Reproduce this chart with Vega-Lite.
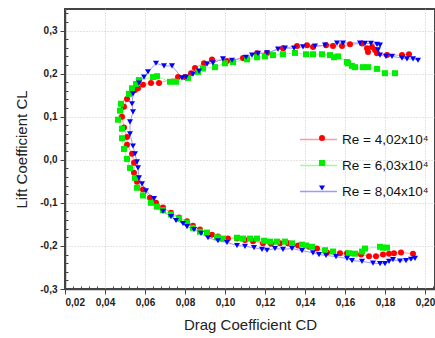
{
  "$schema": "https://vega.github.io/schema/vega-lite/v6.json",
  "autosize": "none",
  "padding": {"left": 65, "top": 9, "right": 0, "bottom": 49},
  "width": 370,
  "height": 280,
  "background": "white",
  "config": {
    "view": {"stroke": "#444444", "strokeWidth": 2},
    "axis": {
      "labelFont": "Liberation Sans",
      "labelFontWeight": "bold",
      "labelFontSize": 10,
      "labelColor": "#222222",
      "titleFont": "Liberation Sans",
      "titleFontWeight": "normal",
      "titleFontSize": 15,
      "titleColor": "#222222",
      "domainColor": "#444444",
      "domainWidth": 1.5,
      "tickColor": "#444444",
      "tickWidth": 1,
      "gridColor": "#c8c8c8",
      "gridDash": [1, 2],
      "gridWidth": 1
    }
  },
  "datasets": {
    "pts": [
      {"s":"Re = 4,02x10⁴","i":1,"x":0.194,"y":-0.218},{"s":"Re = 4,02x10⁴","i":2,"x":0.188,"y":-0.215},{"s":"Re = 4,02x10⁴","i":3,"x":0.1845,"y":-0.217},{"s":"Re = 4,02x10⁴","i":4,"x":0.182,"y":-0.218},{"s":"Re = 4,02x10⁴","i":5,"x":0.179,"y":-0.22},{"s":"Re = 4,02x10⁴","i":6,"x":0.1755,"y":-0.224},{"s":"Re = 4,02x10⁴","i":7,"x":0.172,"y":-0.224},{"s":"Re = 4,02x10⁴","i":8,"x":0.168,"y":-0.22},{"s":"Re = 4,02x10⁴","i":9,"x":0.161,"y":-0.217},{"s":"Re = 4,02x10⁴","i":10,"x":0.1575,"y":-0.217},
      {"s":"Re = 4,02x10⁴","i":11,"x":0.151,"y":-0.215},{"s":"Re = 4,02x10⁴","i":12,"x":0.146,"y":-0.206},{"s":"Re = 4,02x10⁴","i":13,"x":0.142,"y":-0.202},{"s":"Re = 4,02x10⁴","i":14,"x":0.1365,"y":-0.199},{"s":"Re = 4,02x10⁴","i":15,"x":0.1315,"y":-0.194},{"s":"Re = 4,02x10⁴","i":16,"x":0.1275,"y":-0.194},{"s":"Re = 4,02x10⁴","i":17,"x":0.123,"y":-0.195},{"s":"Re = 4,02x10⁴","i":18,"x":0.119,"y":-0.194},{"s":"Re = 4,02x10⁴","i":19,"x":0.114,"y":-0.189},{"s":"Re = 4,02x10⁴","i":20,"x":0.11,"y":-0.186},
      {"s":"Re = 4,02x10⁴","i":21,"x":0.106,"y":-0.183},{"s":"Re = 4,02x10⁴","i":22,"x":0.1015,"y":-0.183},{"s":"Re = 4,02x10⁴","i":23,"x":0.0965,"y":-0.178},{"s":"Re = 4,02x10⁴","i":24,"x":0.0935,"y":-0.174},{"s":"Re = 4,02x10⁴","i":25,"x":0.0875,"y":-0.162},{"s":"Re = 4,02x10⁴","i":26,"x":0.084,"y":-0.153},{"s":"Re = 4,02x10⁴","i":27,"x":0.081,"y":-0.143},{"s":"Re = 4,02x10⁴","i":28,"x":0.077,"y":-0.134},{"s":"Re = 4,02x10⁴","i":29,"x":0.073,"y":-0.123},{"s":"Re = 4,02x10⁴","i":30,"x":0.069,"y":-0.111},
      {"s":"Re = 4,02x10⁴","i":31,"x":0.0655,"y":-0.1},{"s":"Re = 4,02x10⁴","i":32,"x":0.0625,"y":-0.088},{"s":"Re = 4,02x10⁴","i":33,"x":0.059,"y":-0.069},{"s":"Re = 4,02x10⁴","i":34,"x":0.056,"y":-0.051},{"s":"Re = 4,02x10⁴","i":35,"x":0.0545,"y":-0.03},{"s":"Re = 4,02x10⁴","i":36,"x":0.0545,"y":-0.007},{"s":"Re = 4,02x10⁴","i":37,"x":0.0535,"y":0.014},{"s":"Re = 4,02x10⁴","i":38,"x":0.051,"y":0.035},{"s":"Re = 4,02x10⁴","i":39,"x":0.051,"y":0.053},{"s":"Re = 4,02x10⁴","i":40,"x":0.0495,"y":0.075},
      {"s":"Re = 4,02x10⁴","i":41,"x":0.0485,"y":0.1},{"s":"Re = 4,02x10⁴","i":42,"x":0.0495,"y":0.123},{"s":"Re = 4,02x10⁴","i":43,"x":0.051,"y":0.141},{"s":"Re = 4,02x10⁴","i":44,"x":0.055,"y":0.162},{"s":"Re = 4,02x10⁴","i":45,"x":0.0565,"y":0.166},{"s":"Re = 4,02x10⁴","i":46,"x":0.059,"y":0.174},{"s":"Re = 4,02x10⁴","i":47,"x":0.063,"y":0.178},{"s":"Re = 4,02x10⁴","i":48,"x":0.067,"y":0.178},{"s":"Re = 4,02x10⁴","i":49,"x":0.0765,"y":0.192},{"s":"Re = 4,02x10⁴","i":50,"x":0.08,"y":0.192},
      {"s":"Re = 4,02x10⁴","i":51,"x":0.083,"y":0.201},{"s":"Re = 4,02x10⁴","i":52,"x":0.085,"y":0.213},{"s":"Re = 4,02x10⁴","i":53,"x":0.0895,"y":0.224},{"s":"Re = 4,02x10⁴","i":54,"x":0.0935,"y":0.233},{"s":"Re = 4,02x10⁴","i":55,"x":0.101,"y":0.229},{"s":"Re = 4,02x10⁴","i":56,"x":0.109,"y":0.236},{"s":"Re = 4,02x10⁴","i":57,"x":0.116,"y":0.247},{"s":"Re = 4,02x10⁴","i":58,"x":0.121,"y":0.248},{"s":"Re = 4,02x10⁴","i":59,"x":0.129,"y":0.259},{"s":"Re = 4,02x10⁴","i":60,"x":0.136,"y":0.264},
      {"s":"Re = 4,02x10⁴","i":61,"x":0.141,"y":0.266},{"s":"Re = 4,02x10⁴","i":62,"x":0.144,"y":0.262},{"s":"Re = 4,02x10⁴","i":63,"x":0.1505,"y":0.266},{"s":"Re = 4,02x10⁴","i":64,"x":0.154,"y":0.264},{"s":"Re = 4,02x10⁴","i":65,"x":0.1585,"y":0.264},{"s":"Re = 4,02x10⁴","i":66,"x":0.1625,"y":0.268},{"s":"Re = 4,02x10⁴","i":67,"x":0.1685,"y":0.27},{"s":"Re = 4,02x10⁴","i":68,"x":0.171,"y":0.259},{"s":"Re = 4,02x10⁴","i":69,"x":0.1715,"y":0.25},{"s":"Re = 4,02x10⁴","i":70,"x":0.1735,"y":0.262},
      {"s":"Re = 4,02x10⁴","i":71,"x":0.175,"y":0.255},{"s":"Re = 4,02x10⁴","i":72,"x":0.176,"y":0.247},{"s":"Re = 4,02x10⁴","i":73,"x":0.181,"y":0.243},{"s":"Re = 4,02x10⁴","i":74,"x":0.1885,"y":0.243},{"s":"Re = 4,02x10⁴","i":75,"x":0.192,"y":0.245},

      {"s":"Re = 6,03x10⁴","i":1,"x":0.181,"y":-0.204},{"s":"Re = 6,03x10⁴","i":2,"x":0.179,"y":-0.204},{"s":"Re = 6,03x10⁴","i":3,"x":0.1775,"y":-0.202},{"s":"Re = 6,03x10⁴","i":4,"x":0.17,"y":-0.206},{"s":"Re = 6,03x10⁴","i":5,"x":0.1685,"y":-0.213},{"s":"Re = 6,03x10⁴","i":6,"x":0.165,"y":-0.218},{"s":"Re = 6,03x10⁴","i":7,"x":0.162,"y":-0.217},{"s":"Re = 6,03x10⁴","i":8,"x":0.154,"y":-0.213},{"s":"Re = 6,03x10⁴","i":9,"x":0.15,"y":-0.21},{"s":"Re = 6,03x10⁴","i":10,"x":0.1435,"y":-0.202},
      {"s":"Re = 6,03x10⁴","i":11,"x":0.1405,"y":-0.199},{"s":"Re = 6,03x10⁴","i":12,"x":0.1385,"y":-0.197},{"s":"Re = 6,03x10⁴","i":13,"x":0.1335,"y":-0.194},{"s":"Re = 6,03x10⁴","i":14,"x":0.13,"y":-0.19},{"s":"Re = 6,03x10⁴","i":15,"x":0.126,"y":-0.19},{"s":"Re = 6,03x10⁴","i":16,"x":0.1225,"y":-0.19},{"s":"Re = 6,03x10⁴","i":17,"x":0.1195,"y":-0.188},{"s":"Re = 6,03x10⁴","i":18,"x":0.116,"y":-0.183},{"s":"Re = 6,03x10⁴","i":19,"x":0.1125,"y":-0.183},{"s":"Re = 6,03x10⁴","i":20,"x":0.109,"y":-0.183},
      {"s":"Re = 6,03x10⁴","i":21,"x":0.106,"y":-0.181},{"s":"Re = 6,03x10⁴","i":22,"x":0.099,"y":-0.183},{"s":"Re = 6,03x10⁴","i":23,"x":0.096,"y":-0.18},{"s":"Re = 6,03x10⁴","i":24,"x":0.091,"y":-0.169},{"s":"Re = 6,03x10⁴","i":25,"x":0.0875,"y":-0.167},{"s":"Re = 6,03x10⁴","i":26,"x":0.084,"y":-0.158},{"s":"Re = 6,03x10⁴","i":27,"x":0.081,"y":-0.146},{"s":"Re = 6,03x10⁴","i":28,"x":0.077,"y":-0.136},{"s":"Re = 6,03x10⁴","i":29,"x":0.073,"y":-0.127},{"s":"Re = 6,03x10⁴","i":30,"x":0.069,"y":-0.117},
      {"s":"Re = 6,03x10⁴","i":31,"x":0.066,"y":-0.109},{"s":"Re = 6,03x10⁴","i":32,"x":0.063,"y":-0.1},{"s":"Re = 6,03x10⁴","i":33,"x":0.059,"y":-0.083},{"s":"Re = 6,03x10⁴","i":34,"x":0.056,"y":-0.065},{"s":"Re = 6,03x10⁴","i":35,"x":0.055,"y":-0.042},{"s":"Re = 6,03x10⁴","i":36,"x":0.0525,"y":-0.019},{"s":"Re = 6,03x10⁴","i":37,"x":0.051,"y":0.002},{"s":"Re = 6,03x10⁴","i":38,"x":0.0495,"y":0.025},{"s":"Re = 6,03x10⁴","i":39,"x":0.0485,"y":0.05},{"s":"Re = 6,03x10⁴","i":40,"x":0.0485,"y":0.072},
      {"s":"Re = 6,03x10⁴","i":41,"x":0.0465,"y":0.093},{"s":"Re = 6,03x10⁴","i":42,"x":0.0475,"y":0.114},{"s":"Re = 6,03x10⁴","i":43,"x":0.048,"y":0.13},{"s":"Re = 6,03x10⁴","i":44,"x":0.052,"y":0.153},{"s":"Re = 6,03x10⁴","i":45,"x":0.0535,"y":0.166},{"s":"Re = 6,03x10⁴","i":46,"x":0.0555,"y":0.176},{"s":"Re = 6,03x10⁴","i":47,"x":0.057,"y":0.185},{"s":"Re = 6,03x10⁴","i":48,"x":0.064,"y":0.192},{"s":"Re = 6,03x10⁴","i":49,"x":0.066,"y":0.194},{"s":"Re = 6,03x10⁴","i":50,"x":0.0725,"y":0.181},
      {"s":"Re = 6,03x10⁴","i":51,"x":0.0755,"y":0.181},{"s":"Re = 6,03x10⁴","i":52,"x":0.0815,"y":0.19},{"s":"Re = 6,03x10⁴","i":53,"x":0.0865,"y":0.204},{"s":"Re = 6,03x10⁴","i":54,"x":0.089,"y":0.212},{"s":"Re = 6,03x10⁴","i":55,"x":0.095,"y":0.215},{"s":"Re = 6,03x10⁴","i":56,"x":0.1,"y":0.224},{"s":"Re = 6,03x10⁴","i":57,"x":0.104,"y":0.227},{"s":"Re = 6,03x10⁴","i":58,"x":0.111,"y":0.233},{"s":"Re = 6,03x10⁴","i":59,"x":0.116,"y":0.238},{"s":"Re = 6,03x10⁴","i":60,"x":0.12,"y":0.24},
      {"s":"Re = 6,03x10⁴","i":61,"x":0.124,"y":0.243},{"s":"Re = 6,03x10⁴","i":62,"x":0.129,"y":0.245},{"s":"Re = 6,03x10⁴","i":63,"x":0.135,"y":0.248},{"s":"Re = 6,03x10⁴","i":64,"x":0.1405,"y":0.245},{"s":"Re = 6,03x10⁴","i":65,"x":0.144,"y":0.245},{"s":"Re = 6,03x10⁴","i":66,"x":0.1485,"y":0.245},{"s":"Re = 6,03x10⁴","i":67,"x":0.1525,"y":0.243},{"s":"Re = 6,03x10⁴","i":68,"x":0.1545,"y":0.238},{"s":"Re = 6,03x10⁴","i":69,"x":0.1565,"y":0.24},{"s":"Re = 6,03x10⁴","i":70,"x":0.161,"y":0.227},
      {"s":"Re = 6,03x10⁴","i":71,"x":0.1615,"y":0.224},{"s":"Re = 6,03x10⁴","i":72,"x":0.1635,"y":0.218},{"s":"Re = 6,03x10⁴","i":73,"x":0.165,"y":0.215},{"s":"Re = 6,03x10⁴","i":74,"x":0.169,"y":0.215},{"s":"Re = 6,03x10⁴","i":75,"x":0.1715,"y":0.215},{"s":"Re = 6,03x10⁴","i":76,"x":0.176,"y":0.211},{"s":"Re = 6,03x10⁴","i":77,"x":0.18,"y":0.201},{"s":"Re = 6,03x10⁴","i":78,"x":0.185,"y":0.201},

      {"s":"Re = 8,04x10⁴","i":1,"x":0.195,"y":-0.229},{"s":"Re = 8,04x10⁴","i":2,"x":0.193,"y":-0.231},{"s":"Re = 8,04x10⁴","i":3,"x":0.1905,"y":-0.234},{"s":"Re = 8,04x10⁴","i":4,"x":0.1875,"y":-0.235},{"s":"Re = 8,04x10⁴","i":5,"x":0.184,"y":-0.232},{"s":"Re = 8,04x10⁴","i":6,"x":0.182,"y":-0.236},{"s":"Re = 8,04x10⁴","i":7,"x":0.18,"y":-0.241},{"s":"Re = 8,04x10⁴","i":8,"x":0.1775,"y":-0.241},{"s":"Re = 8,04x10⁴","i":9,"x":0.174,"y":-0.24},{"s":"Re = 8,04x10⁴","i":10,"x":0.1685,"y":-0.236},
      {"s":"Re = 8,04x10⁴","i":11,"x":0.1635,"y":-0.234},{"s":"Re = 8,04x10⁴","i":12,"x":0.161,"y":-0.229},{"s":"Re = 8,04x10⁴","i":13,"x":0.1555,"y":-0.225},{"s":"Re = 8,04x10⁴","i":14,"x":0.1505,"y":-0.222},{"s":"Re = 8,04x10⁴","i":15,"x":0.147,"y":-0.22},{"s":"Re = 8,04x10⁴","i":16,"x":0.144,"y":-0.216},{"s":"Re = 8,04x10⁴","i":17,"x":0.1385,"y":-0.211},{"s":"Re = 8,04x10⁴","i":18,"x":0.1335,"y":-0.206},{"s":"Re = 8,04x10⁴","i":19,"x":0.129,"y":-0.208},{"s":"Re = 8,04x10⁴","i":20,"x":0.125,"y":-0.206},
      {"s":"Re = 8,04x10⁴","i":21,"x":0.121,"y":-0.21},{"s":"Re = 8,04x10⁴","i":22,"x":0.1185,"y":-0.208},{"s":"Re = 8,04x10⁴","i":23,"x":0.1145,"y":-0.204},{"s":"Re = 8,04x10⁴","i":24,"x":0.11,"y":-0.201},{"s":"Re = 8,04x10⁴","i":25,"x":0.106,"y":-0.199},{"s":"Re = 8,04x10⁴","i":26,"x":0.101,"y":-0.192},{"s":"Re = 8,04x10⁴","i":27,"x":0.0965,"y":-0.188},{"s":"Re = 8,04x10⁴","i":28,"x":0.0915,"y":-0.181},{"s":"Re = 8,04x10⁴","i":29,"x":0.088,"y":-0.171},{"s":"Re = 8,04x10⁴","i":30,"x":0.0845,"y":-0.162},
      {"s":"Re = 8,04x10⁴","i":31,"x":0.081,"y":-0.155},{"s":"Re = 8,04x10⁴","i":32,"x":0.079,"y":-0.148},{"s":"Re = 8,04x10⁴","i":33,"x":0.0755,"y":-0.141},{"s":"Re = 8,04x10⁴","i":34,"x":0.073,"y":-0.132},{"s":"Re = 8,04x10⁴","i":35,"x":0.069,"y":-0.12},{"s":"Re = 8,04x10⁴","i":36,"x":0.0645,"y":-0.09},{"s":"Re = 8,04x10⁴","i":37,"x":0.0605,"y":-0.072},{"s":"Re = 8,04x10⁴","i":38,"x":0.0585,"y":-0.056},{"s":"Re = 8,04x10⁴","i":39,"x":0.057,"y":-0.042},{"s":"Re = 8,04x10⁴","i":40,"x":0.0565,"y":-0.019},
      {"s":"Re = 8,04x10⁴","i":41,"x":0.056,"y":-0.005},{"s":"Re = 8,04x10⁴","i":42,"x":0.055,"y":0.014},{"s":"Re = 8,04x10⁴","i":43,"x":0.054,"y":0.032},{"s":"Re = 8,04x10⁴","i":44,"x":0.0525,"y":0.06},{"s":"Re = 8,04x10⁴","i":45,"x":0.0525,"y":0.088},{"s":"Re = 8,04x10⁴","i":46,"x":0.054,"y":0.111},{"s":"Re = 8,04x10⁴","i":47,"x":0.0535,"y":0.13},{"s":"Re = 8,04x10⁴","i":48,"x":0.054,"y":0.153},{"s":"Re = 8,04x10⁴","i":49,"x":0.057,"y":0.178},{"s":"Re = 8,04x10⁴","i":50,"x":0.0595,"y":0.192},
      {"s":"Re = 8,04x10⁴","i":51,"x":0.0615,"y":0.204},{"s":"Re = 8,04x10⁴","i":52,"x":0.0655,"y":0.224},{"s":"Re = 8,04x10⁴","i":53,"x":0.0695,"y":0.218},{"s":"Re = 8,04x10⁴","i":54,"x":0.0735,"y":0.218},{"s":"Re = 8,04x10⁴","i":55,"x":0.0785,"y":0.19},{"s":"Re = 8,04x10⁴","i":56,"x":0.0805,"y":0.192},{"s":"Re = 8,04x10⁴","i":57,"x":0.084,"y":0.199},{"s":"Re = 8,04x10⁴","i":58,"x":0.087,"y":0.206},{"s":"Re = 8,04x10⁴","i":59,"x":0.091,"y":0.222},{"s":"Re = 8,04x10⁴","i":60,"x":0.094,"y":0.225},
      {"s":"Re = 8,04x10⁴","i":61,"x":0.099,"y":0.234},{"s":"Re = 8,04x10⁴","i":62,"x":0.1035,"y":0.231},{"s":"Re = 8,04x10⁴","i":63,"x":0.1105,"y":0.238},{"s":"Re = 8,04x10⁴","i":64,"x":0.1135,"y":0.243},{"s":"Re = 8,04x10⁴","i":65,"x":0.1165,"y":0.247},{"s":"Re = 8,04x10⁴","i":66,"x":0.121,"y":0.248},{"s":"Re = 8,04x10⁴","i":67,"x":0.1265,"y":0.257},{"s":"Re = 8,04x10⁴","i":68,"x":0.13,"y":0.259},{"s":"Re = 8,04x10⁴","i":69,"x":0.1345,"y":0.259},{"s":"Re = 8,04x10⁴","i":70,"x":0.139,"y":0.262},
      {"s":"Re = 8,04x10⁴","i":71,"x":0.145,"y":0.264},{"s":"Re = 8,04x10⁴","i":72,"x":0.15,"y":0.266},{"s":"Re = 8,04x10⁴","i":73,"x":0.156,"y":0.271},{"s":"Re = 8,04x10⁴","i":74,"x":0.159,"y":0.271},{"s":"Re = 8,04x10⁴","i":75,"x":0.1675,"y":0.271},{"s":"Re = 8,04x10⁴","i":76,"x":0.17,"y":0.27},{"s":"Re = 8,04x10⁴","i":77,"x":0.173,"y":0.27},{"s":"Re = 8,04x10⁴","i":78,"x":0.176,"y":0.268},{"s":"Re = 8,04x10⁴","i":79,"x":0.1775,"y":0.266},{"s":"Re = 8,04x10⁴","i":80,"x":0.1765,"y":0.255},
      {"s":"Re = 8,04x10⁴","i":81,"x":0.1775,"y":0.243},{"s":"Re = 8,04x10⁴","i":82,"x":0.1805,"y":0.24},{"s":"Re = 8,04x10⁴","i":83,"x":0.1835,"y":0.24},{"s":"Re = 8,04x10⁴","i":84,"x":0.1885,"y":0.236},{"s":"Re = 8,04x10⁴","i":85,"x":0.191,"y":0.234},{"s":"Re = 8,04x10⁴","i":86,"x":0.194,"y":0.234},{"s":"Re = 8,04x10⁴","i":87,"x":0.1965,"y":0.231}
    ]
  },
  "data": {"name": "pts"},
  "encoding": {
    "x": {
      "field": "x", "type": "quantitative",
      "scale": {"domain": [0.02, 0.205], "nice": false, "zero": false},
      "axis": {
        "title": "Drag Coefficient CD",
        "titlePadding": 10,
        "values": [0.02,0.024,0.028,0.032,0.036,0.04,0.044,0.048,0.052,0.056,0.06,0.064,0.068,0.072,0.076,0.08,0.084,0.088,0.092,0.096,0.1,0.104,0.108,0.112,0.116,0.12,0.124,0.128,0.132,0.136,0.14,0.144,0.148,0.152,0.156,0.16,0.164,0.168,0.172,0.176,0.18,0.184,0.188,0.192,0.196,0.2,0.204],
        "labelExpr": "abs(datum.value*50 - round(datum.value*50)) < 0.001 ? replace(format(datum.value, '.2f'), '.', ',') : ''",
        "tickSize": {"condition": {"test": "abs(datum.value*50 - round(datum.value*50)) < 0.001", "value": 5}, "value": -3},
        "gridOpacity": {"condition": {"test": "abs(datum.value*50 - round(datum.value*50)) < 0.001", "value": 1}, "value": 0},
        "labelPadding": 3
      }
    },
    "y": {
      "field": "y", "type": "quantitative",
      "scale": {"domain": [-0.3, 0.35], "nice": false, "zero": false},
      "axis": {
        "title": "Lift Coefficient CL",
        "titlePadding": 10,
        "values": [-0.3,-0.28,-0.26,-0.24,-0.22,-0.2,-0.18,-0.16,-0.14,-0.12,-0.1,-0.08,-0.06,-0.04,-0.02,0,0.02,0.04,0.06,0.08,0.1,0.12,0.14,0.16,0.18,0.2,0.22,0.24,0.26,0.28,0.3,0.32,0.34],
        "labelExpr": "abs(datum.value*10 - round(datum.value*10)) < 0.001 ? replace(replace(format(datum.value, '.1f'), '.', ','), '−', '-') : ''",
        "tickSize": {"condition": {"test": "abs(datum.value*10 - round(datum.value*10)) < 0.001", "value": 5}, "value": -3},
        "gridOpacity": {"condition": {"test": "abs(datum.value*10 - round(datum.value*10)) < 0.001", "value": 1}, "value": 0},
        "labelPadding": 3
      }
    }
  },
  "layer": [
    {
      "mark": {"type": "line", "strokeWidth": 1},
      "encoding": {
        "order": {"field": "i", "type": "quantitative"},
        "stroke": {
          "field": "s", "type": "nominal",
          "scale": {"range": ["#ff9a9a", "#9aff9a", "#9a9aff"]},
          "legend": {
            "title": null, "orient": "none", "legendX": 234, "legendY": 111,
            "symbolType": "stroke", "symbolSize": 1369, "symbolStrokeWidth": 1.5,
            "labelFont": "Liberation Sans", "labelFontSize": 13.5, "labelColor": "#111111",
            "labelOffset": 4, "rowPadding": -13, "padding": 0
          }
        }
      }
    },
    {
      "mark": {"type": "point", "filled": true, "opacity": 1, "size": 36},
      "encoding": {
        "fill": {
          "field": "s", "type": "nominal",
          "scale": {"domain": ["Re = 4,02x10⁴", "Re = 6,03x10⁴", "Re = 8,04x10⁴"], "range": ["#ff0000", "#00ee00", "#0000ff"]},
          "legend": {
            "title": null, "orient": "none", "legendX": 250, "legendY": 122,
            "symbolSize": 36, "symbolOpacity": 1, "symbolStrokeWidth": 0,
            "labelFont": "Liberation Sans", "labelFontSize": 14, "labelExpr": "''",
            "rowPadding": 11, "padding": 0
          }
        },
        "shape": {
          "field": "s", "type": "nominal",
          "scale": {"domain": ["Re = 4,02x10⁴", "Re = 6,03x10⁴", "Re = 8,04x10⁴"], "range": ["circle", "square", "triangle-down"]},
          "legend": {
            "title": null, "orient": "none", "legendX": 250, "legendY": 122,
            "symbolSize": 36, "symbolOpacity": 1, "symbolStrokeWidth": 0,
            "labelFont": "Liberation Sans", "labelFontSize": 14, "labelExpr": "''",
            "rowPadding": 11, "padding": 0
          }
        }
      }
    }
  ]
}
